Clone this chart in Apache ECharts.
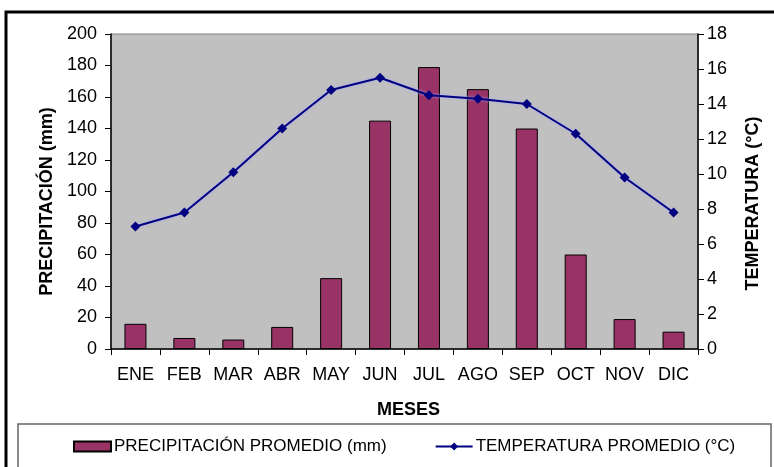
<!DOCTYPE html>
<html><head><meta charset="utf-8">
<script src="https://cdn.jsdelivr.net/npm/echarts@6/dist/echarts.min.js"></script>
<style>html,body{margin:0;padding:0;background:#fff}#c{width:774px;height:467px}</style>
</head><body><div id="c"></div>
<script>
const categories = ['ENE','FEB','MAR','ABR','MAY','JUN','JUL','AGO','SEP','OCT','NOV','DIC'];
const precipitacion = [16, 7, 6, 14, 45, 145, 179, 165, 140, 60, 19, 11];
const temperatura = [7.0, 7.8, 10.1, 12.6, 14.8, 15.5, 14.5, 14.3, 14.0, 12.3, 9.8, 7.8];
const leftTicks = [0, 20, 40, 60, 80, 100, 120, 140, 160, 180, 200];
const rightTicks = [0, 2, 4, 6, 8, 10, 12, 14, 16, 18];

const F = 'Liberation Sans, Arial, sans-serif';
const chart = echarts.init(document.getElementById('c'));
chart.setOption({
  animation: false,
  textStyle: {fontFamily: F},
  graphic: [
    {type: 'rect', shape: {x: 6, y: 12, width: 780, height: 470}, style: {fill: 'none', stroke: '#000', lineWidth: 3}, z: 100},
    {type: 'rect', shape: {x: 18, y: 424, width: 753, height: 60}, style: {fill: '#fff', stroke: '#666', lineWidth: 1.5}, z: 0}
  ],
  grid: {left: 111, right: 76, top: 34, bottom: 118, outerBoundsMode: 'none', containLabel: false,
         show: true, backgroundColor: '#c0c0c0', borderColor: '#808080', borderWidth: 1},
  legend: {
    bottom: 7, left: 68, itemGap: 48, itemWidth: 37, itemHeight: 10,
    textStyle: {fontFamily: F, fontSize: 17, color: '#000', padding: [0, 0, 0, -2]},
    data: [
      {name: 'PRECIPITACIÓN PROMEDIO (mm)', icon: 'rect'},
      {name: 'TEMPERATURA PROMEDIO (°C)'}
    ]
  },
  xAxis: {
    type: 'category', data: categories,
    name: 'MESES', nameLocation: 'middle', nameGap: 52,
    nameTextStyle: {fontFamily: F, fontSize: 18, fontWeight: 'bold', color: '#000', padding: [0, 0, 0, 8]},
    axisLine: {lineStyle: {color: '#000', width: 1.5}},
    axisTick: {show: true, alignWithLabel: false, length: 6, lineStyle: {color: '#000'}},
    axisLabel: {fontFamily: F, fontSize: 18, color: '#000', margin: 17, interval: 0, hideOverlap: false}
  },
  yAxis: [
    {
      type: 'value', min: 0, max: 200, interval: 20,
      name: 'PRECIPITACIÓN (mm)', nameLocation: 'middle', nameGap: 55,
      nameTextStyle: {fontFamily: F, fontSize: 18, fontWeight: 'bold', color: '#000', padding: [0, 20, 0, 0]},
      axisLine: {show: true, lineStyle: {color: '#000', width: 1.5}},
      axisTick: {show: true, length: 6, lineStyle: {color: '#000'}},
      splitLine: {show: false},
      axisLabel: {fontFamily: F, fontSize: 18, color: '#000', margin: 14}
    },
    {
      type: 'value', min: 0, max: 18, interval: 2, position: 'right',
      name: 'TEMPERATURA (°C)', nameLocation: 'middle', nameGap: 46, nameRotate: 90,
      nameTextStyle: {fontFamily: F, fontSize: 18, fontWeight: 'bold', color: '#000', padding: [0, 24, 0, 0]},
      axisLine: {show: true, lineStyle: {color: '#000', width: 1.5}},
      axisTick: {show: true, length: 6, inside: false, lineStyle: {color: '#000'}},
      splitLine: {show: false},
      axisLabel: {fontFamily: F, fontSize: 18, color: '#000', margin: 9}
    }
  ],
  series: [
    {
      name: 'PRECIPITACIÓN PROMEDIO (mm)', type: 'bar', data: precipitacion,
      barWidth: '45%', yAxisIndex: 0,
      itemStyle: {color: '#993366', borderColor: '#000', borderWidth: 1}
    },
    {
      name: 'TEMPERATURA PROMEDIO (°C)', type: 'line', data: temperatura, yAxisIndex: 1,
      symbol: 'diamond', symbolSize: 10,
      lineStyle: {color: '#000080', width: 2, shadowColor: 'rgba(170,170,255,0.9)', shadowBlur: 3},
      itemStyle: {color: '#000080'}
    }
  ]
});
</script></body></html>
